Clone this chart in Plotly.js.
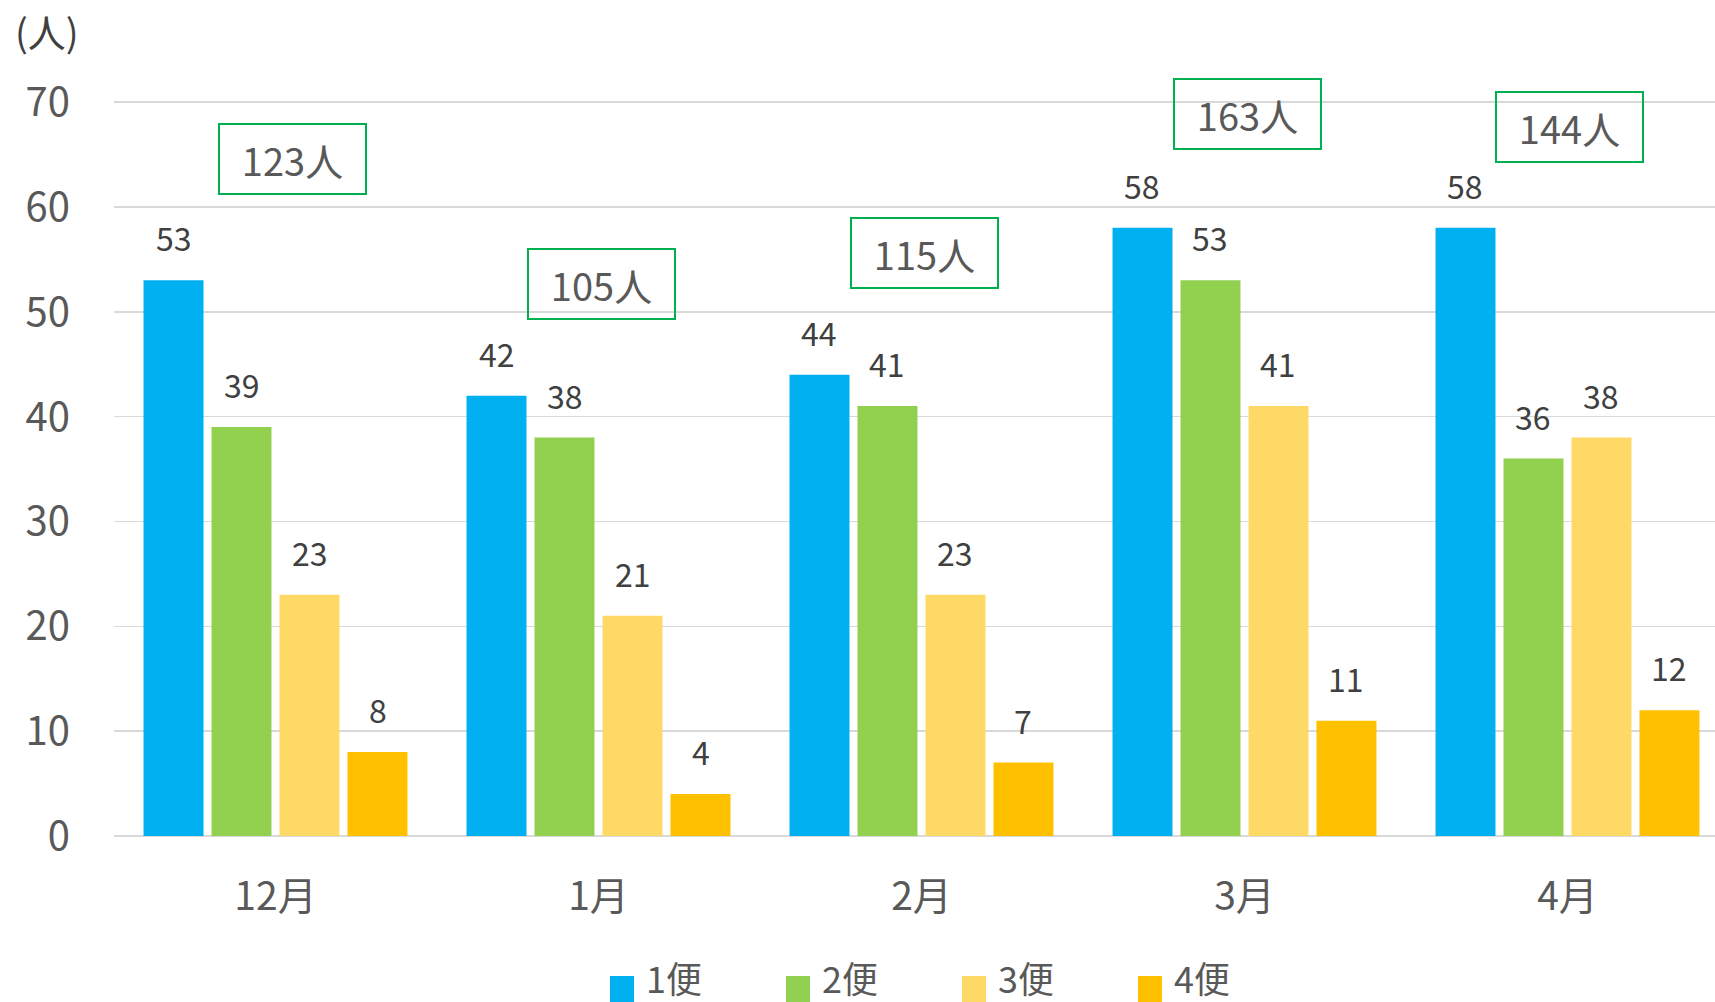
<!DOCTYPE html>
<html>
<head>
<meta charset="utf-8">
<script src="https://cdn.plot.ly/plotly-3.0.1.min.js"></script>
<style>html,body{margin:0;padding:0;background:#fff;}#chart{width:1715px;height:1002px;}</style>
</head>
<body>
<div id="chart"></div>
<script>
// ---- data ----
const months = ["12月", "1月", "2月", "3月", "4月"];
const seriesNames = ["1便", "2便", "3便", "4便"];
const bin1 = [53, 42, 44, 58, 58];
const bin2 = [39, 38, 41, 53, 36];
const bin3 = [23, 21, 23, 41, 38];
const bin4 = [8, 4, 7, 11, 12];
const yTicks = [0, 10, 20, 30, 40, 50, 60, 70];

// ---- styling ----
const colors = ["#00B0F0", "#92D050", "#FFD966", "#FFC000"];
const FONT = "'Noto Sans CJK JP', 'Noto Sans', sans-serif";
const seriesValues = [bin1, bin2, bin3, bin4];
const barShift = [-102, -34, 34, 102];       // px offsets of bars within a group (label placement)
const totalBoxY = [64.6, 52.6, 55.6, 68.85, 67.6]; // vertical placement of total boxes (axis units)
const totalBoxDx = [17, 3, 3, 3, 2];          // px horizontal nudge of total boxes

// plot geometry (pixels)
const W = 1715, H = 1002;
const M = {l: 114, r: 0, t: 101, b: 166};
const plotW = W - M.l - M.r, plotH = H - M.t - M.b;
const pxX = px => (px - M.l) / plotW;
const pxY = py => (H - M.b - py) / plotH;

const traces = seriesValues.map((vals, i) => ({
  type: "bar",
  name: seriesNames[i],
  x: months,
  y: vals,
  marker: {color: colors[i], line: {width: 0}},
  hoverinfo: "x+y+name",
  showlegend: false
}));

const annotations = [];
const shapes = [];
// data labels
seriesValues.forEach((vals, i) => {
  vals.forEach((v, j) => {
    annotations.push({
      x: months[j], y: v, xref: "x", yref: "y",
      text: String(v), showarrow: false,
      xshift: barShift[i], yshift: 43,
      xanchor: "center", yanchor: "middle",
      font: {family: FONT, size: 32, color: "#404040"}
    });
  });
});
// totals
months.forEach((m, j) => {
  const total = seriesValues.reduce((s, arr) => s + arr[j], 0);
  annotations.push({
    x: m, y: totalBoxY[j], xref: "x", yref: "y",
    text: total + "人", showarrow: false,
    xshift: totalBoxDx[j],
    xanchor: "center", yanchor: "middle",
    width: 143, height: 66, borderpad: 1,
    bordercolor: "#00B050", borderwidth: 2, bgcolor: "rgba(255,255,255,0)",
    font: {family: FONT, size: 38, color: "#595959"}
  });
});
// unit label
annotations.push({
  xref: "paper", yref: "paper", x: pxX(47), y: pxY(31),
  xanchor: "center", yanchor: "middle",
  text: "(人)", showarrow: false,
  font: {family: FONT, size: 38, color: "#404040"}
});
// legend (drawn as swatches + labels)
const legendX0 = 610, legendStep = 176;
seriesNames.forEach((name, i) => {
  const x0 = legendX0 + i * legendStep;
  shapes.push({
    type: "rect", xref: "paper", yref: "paper",
    x0: pxX(x0), x1: pxX(x0 + 24), y0: pxY(1010), y1: pxY(976),
    fillcolor: colors[i], line: {width: 0}, layer: "above"
  });
  annotations.push({
    xref: "paper", yref: "paper", x: pxX(x0 + 34), y: pxY(977),
    xanchor: "left", yanchor: "middle",
    text: name, showarrow: false,
    font: {family: FONT, size: 36, color: "#595959"}
  });
});

const layout = {
  width: W, height: H,
  margin: {l: M.l, r: M.r, t: M.t, b: M.b, pad: 0},
  paper_bgcolor: "#ffffff", plot_bgcolor: "#ffffff",
  font: {family: FONT, color: "#595959"},
  barmode: "group",
  bargap: 0.158,
  bargroupgap: 0.118,
  showlegend: false,
  xaxis: {
    type: "category",
    range: [-0.5, 4.4567],
    showgrid: false, zeroline: false, showline: false,
    ticks: "",
    ticklabelstandoff: 34,
    tickfont: {family: FONT, size: 39, color: "#595959"},
    fixedrange: true
  },
  yaxis: {
    range: [0, 70.1],
    tickvals: yTicks,
    showgrid: true, gridcolor: "#D9D9D9", gridwidth: 1.5,
    zeroline: true, zerolinecolor: "#D9D9D9", zerolinewidth: 2,
    showline: false, ticks: "",
    ticklabelstandoff: 43,
    tickfont: {family: FONT, size: 40, color: "#595959"},
    fixedrange: true
  },
  shapes: shapes,
  annotations: annotations
};

Plotly.newPlot("chart", traces, layout, {displayModeBar: false, staticPlot: true});
</script>
</body>
</html>
